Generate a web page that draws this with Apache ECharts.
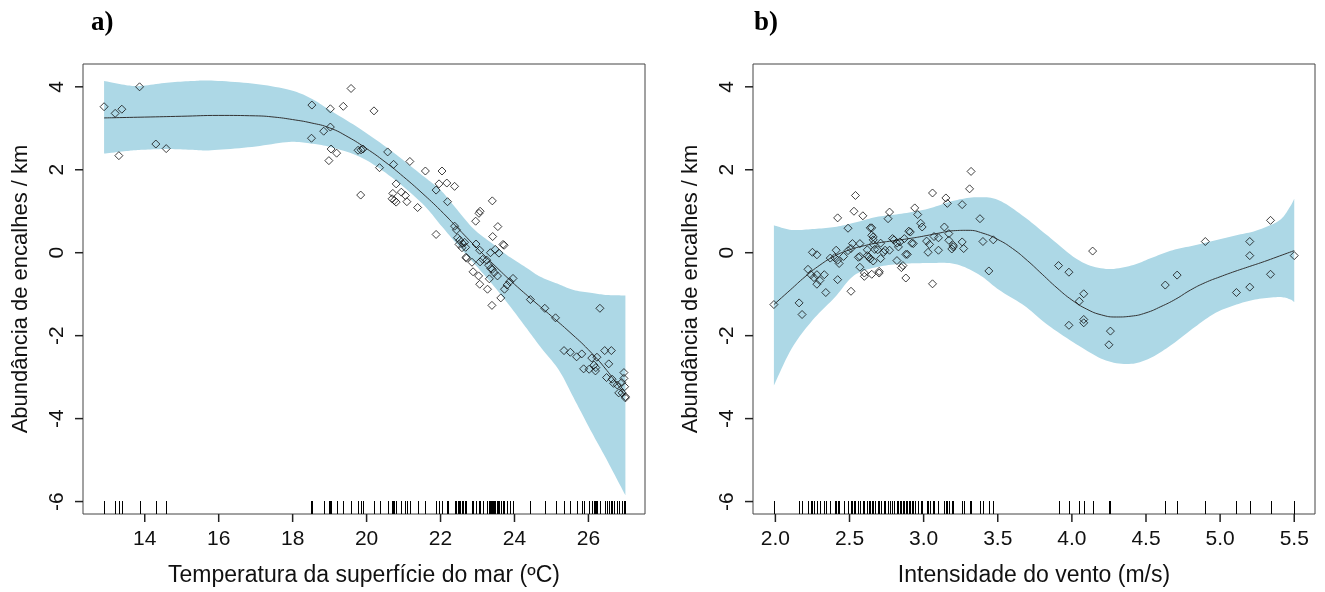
<!DOCTYPE html>
<html>
<head>
<meta charset="utf-8">
<script src="https://cdn.jsdelivr.net/npm/echarts@6/dist/echarts.min.js"></script>
<style>
html,body{margin:0;padding:0;background:#fff;}
#chart{width:1325px;height:592px;}
</style>
</head>
<body>
<div id="chart"></div>
<script>
// ---------- Panel a) : sea surface temperature ----------
const tempPtsX = [12.90,13.20,13.38,13.30,13.86,14.30,14.58,
  18.52,18.51,18.84,19.02,19.02,19.37,19.58,18.98,19.04,19.19,19.84,19.77,19.85,19.90,20.20,20.57,20.35,20.73,20.80,20.71,20.69,20.80,20.75,20.94,21.05,21.09,21.17,21.38,21.59,22.04,21.96,22.17,21.88,22.38,22.19,21.88,22.38,22.43,
  22.46,22.52,22.60,22.50,22.58,22.68,22.65,
  23.40,23.07,23.04,23.55,22.95,23.41,23.72,
  22.96,23.69,23.48,23.35,23.58,23.06,22.69,22.70,22.85,23.07,23.14,
  23.25,23.30,23.40,23.36,23.45,23.54,22.88,23.03,23.32,23.06,23.27,23.63,23.39,23.73,23.80,23.87,23.96,
  24.43,24.82,25.11,26.31,25.34,25.51,25.68,25.82,25.87,26.02,26.19,26.09,26.23,26.15,26.20,26.44,26.62,26.55,
  26.49,26.64,26.68,26.78,26.82,26.91,26.98,26.96,26.96,26.90,27.00,27.00];
const tempPtsY = [3.52,3.36,3.46,2.34,4.00,2.62,2.51,
  3.56,2.76,2.93,3.03,3.47,3.53,3.96,2.22,2.50,2.40,1.39,2.47,2.48,2.50,3.42,2.43,2.05,2.13,1.66,1.43,1.30,1.22,1.26,1.46,1.38,1.23,2.20,1.09,1.97,1.97,1.66,1.68,1.51,1.60,1.23,0.44,0.64,0.55,
  0.36,0.30,0.22,0.20,0.12,0.13,0.25,
  1.25,1.00,0.95,0.63,0.76,0.39,0.18,
  0.21,0.20,0.08,0.00,-0.01,0.06,-0.11,-0.13,-0.23,-0.22,-0.16,
  -0.18,-0.30,-0.40,-0.38,-0.48,-0.56,-0.46,-0.56,-0.63,-0.76,-0.88,-1.09,-1.27,-0.88,-0.78,-0.70,-0.62,
  -1.13,-1.34,-1.57,-1.34,-2.36,-2.40,-2.51,-2.44,-2.80,-2.81,-2.85,-2.54,-2.52,-2.71,-2.77,-2.36,-2.36,-2.68,
  -3.01,-3.05,-3.15,-3.19,-3.38,-3.38,-3.23,-2.89,-3.03,-3.13,-3.47,-3.50];
const tempFitX = [12.9,14,15,16,17,17.5,18,18.5,19,19.5,20,20.5,21,21.5,22,22.5,23,23.5,24,24.5,25,25.5,26,26.5,27];
const tempFitY = [3.25,3.27,3.29,3.31,3.30,3.27,3.21,3.13,3.01,2.79,2.51,2.19,1.83,1.44,1.02,0.56,0.10,-0.34,-0.76,-1.15,-1.53,-1.92,-2.34,-2.84,-3.45];
const tempBandX  = [12.9,13.5,13.9,14.6,15.3,15.8,16.9,17.9,18.5,19.0,19.8,20.6,21.5,22.0,22.4,22.9,23.4,23.8,24.3,24.7,25.2,25.6,26.1,26.5,27.0];
const tempBandHi = [4.14,4.04,4.02,4.10,4.14,4.15,4.08,3.93,3.72,3.44,3.00,2.50,1.87,1.51,1.09,0.57,0.22,-0.06,-0.35,-0.58,-0.76,-0.90,-0.97,-1.02,-1.03];
const tempBandLo = [2.39,2.45,2.48,2.50,2.48,2.47,2.55,2.67,2.63,2.55,2.32,1.87,1.19,0.67,0.25,-0.25,-0.76,-1.20,-1.79,-2.27,-2.83,-3.50,-4.35,-5.00,-5.85];
const tempTicks = [14,16,18,20,22,24,26];

// ---------- Panel b) : wind speed ----------
const windPtsX = [1.99,2.16,2.18,2.22,2.25,2.28,2.24,2.26,2.28,2.30,2.33,2.28,2.34,2.37,2.40,2.41,2.42,2.43,2.42,2.42,2.46,2.49,2.52,2.51,2.49,2.53,2.54,2.51,2.57,2.56,2.57,2.59,2.57,2.60,2.60,2.62,2.62,2.64,2.65,2.65,2.66,2.66,2.63,2.64,2.66,2.65,2.66,2.67,2.70,2.70,2.69,2.71,2.73,2.74,2.71,2.76,2.77,2.77,2.79,2.80,2.82,2.83,2.82,2.84,2.85,2.86,2.88,2.88,2.89,2.87,2.90,2.91,2.92,2.93,2.94,2.96,2.98,2.99,3.02,3.03,3.04,3.06,3.06,3.07,3.10,3.10,3.14,3.15,3.16,3.17,3.17,3.20,3.20,3.19,3.26,3.26,3.27,3.31,3.32,3.38,3.40,3.44,3.47,
  3.91,3.98,4.14,4.08,4.05,3.98,4.08,4.08,4.26,4.25,4.63,4.71,4.90,5.11,5.20,5.20,5.20,5.34,5.34,5.50];
const windPtsY = [-1.25,-1.21,-1.49,-0.40,0.01,-0.05,-0.53,-0.60,-0.53,-0.67,-0.53,-0.76,-0.96,-0.13,-0.12,0.06,-0.18,-0.26,-0.65,0.84,-0.09,0.05,0.22,0.10,0.59,1.00,1.38,-0.93,0.22,-0.11,-0.09,0.89,-0.35,-0.49,-0.57,0.07,-0.07,0.60,0.60,0.42,0.38,0.31,-0.10,-0.15,-0.20,-0.52,0.20,0.08,-0.45,-0.49,0.07,0.23,0.01,0.06,-0.14,0.82,0.98,0.06,0.34,0.31,0.23,0.14,-0.19,0.26,-0.36,-0.31,-0.61,-0.04,-0.04,0.34,0.52,0.50,0.23,0.22,1.08,0.92,0.71,0.62,0.28,0.01,0.20,1.44,-0.75,0.39,0.06,0.36,0.62,1.32,1.19,0.30,0.46,0.18,0.14,0.09,1.16,0.26,0.10,1.54,1.96,0.82,0.27,-0.44,0.31,
  -0.31,-0.47,0.04,-0.99,-1.17,-1.75,-1.61,-1.69,-1.89,-2.22,-0.78,-0.54,0.27,-0.96,0.27,-0.07,-0.83,0.78,-0.52,-0.07];
const windFitX = [1.99,2.1,2.2,2.3,2.4,2.5,2.6,2.7,2.8,2.9,3.0,3.1,3.2,3.3,3.4,3.5,3.6,3.7,3.8,3.9,4.0,4.1,4.2,4.3,4.4,4.5,4.6,4.7,4.8,4.9,5.0,5.1,5.2,5.3,5.4,5.5];
const windFitY = [-1.25,-0.90,-0.58,-0.30,-0.08,0.07,0.17,0.24,0.29,0.34,0.40,0.47,0.53,0.54,0.47,0.32,0.10,-0.19,-0.52,-0.85,-1.14,-1.36,-1.50,-1.55,-1.53,-1.45,-1.30,-1.12,-0.90,-0.72,-0.58,-0.45,-0.33,-0.21,-0.08,0.05];
const windBandX  = [1.99,2.11,2.25,2.40,2.53,2.68,2.85,3.03,3.21,3.37,3.51,3.68,3.84,4.05,4.23,4.40,4.54,4.68,4.83,4.97,5.11,5.25,5.40,5.47,5.5];
const windBandHi = [0.66,0.55,0.57,0.62,0.72,0.86,0.94,1.06,1.26,1.34,1.26,0.86,0.40,-0.19,-0.39,-0.31,-0.12,0.06,0.18,0.30,0.42,0.54,0.78,1.10,1.30];
const windBandLo = [-3.20,-2.31,-1.63,-1.08,-0.55,-0.35,-0.27,-0.25,-0.27,-0.52,-0.90,-1.28,-1.75,-2.25,-2.60,-2.68,-2.52,-2.20,-1.79,-1.45,-1.25,-1.12,-1.07,-1.12,-1.19];
const windTicks = [2.0,2.5,3.0,3.5,4.0,4.5,5.0,5.5];

const yTicks = [-6,-4,-2,0,2,4];
const panelTitles = ['a)', 'b)'];
const xNames = ['Temperatura da superfície do mar (ºC)', 'Intensidade do vento (m/s)'];
const yName = 'Abundância de encalhes / km';

// ---------- build ----------
const chart = echarts.init(document.getElementById('chart'), null, {renderer: 'canvas'});
const BAND = '#ADD8E6';
const INK = '#111';
const FONT = 'Liberation Sans, Arial, sans-serif';
const Y_MIN = -6.30, Y_MAX = 4.55;
const X_RANGE = [[12.33, 27.53], [1.849, 5.64]];
const X_TICKS = [tempTicks, windTicks];

function zip(a, b) { return a.map((v, i) => [v, b[i]]); }

// Catmull-Rom smoothing of the band outline in screen space (rendering only)
function smoothPts(p) {
  const out = [];
  const n = p.length;
  for (let i = 0; i < n - 1; i++) {
    const p0 = p[Math.max(i - 1, 0)], p1 = p[i], p2 = p[i + 1], p3 = p[Math.min(i + 2, n - 1)];
    const c1 = [p1[0] + (p2[0] - p0[0]) / 6, p1[1] + (p2[1] - p0[1]) / 6];
    const c2 = [p2[0] - (p3[0] - p1[0]) / 6, p2[1] - (p3[1] - p1[1]) / 6];
    const steps = 10;
    for (let s = 0; s < steps; s++) {
      const t = s / steps, u = 1 - t;
      out.push([
        u*u*u*p1[0] + 3*u*u*t*c1[0] + 3*u*t*t*c2[0] + t*t*t*p2[0],
        u*u*u*p1[1] + 3*u*u*t*c1[1] + 3*u*t*t*c2[1] + t*t*t*p2[1]
      ]);
    }
  }
  out.push(p[n - 1]);
  return out;
}

function bandSeries(idx, bx, lo, hi) {
  return {
    type: 'custom', xAxisIndex: idx, yAxisIndex: idx, z: 1, silent: true,
    data: [[bx[0], lo[0]]],
    renderItem: function (params, api) {
      const up = [], dn = [];
      for (let i = 0; i < bx.length; i++) { up.push(api.coord([bx[i], hi[i]])); dn.push(api.coord([bx[i], lo[i]])); }
      const pts = smoothPts(up).concat(smoothPts(dn).reverse());
      return { type: 'polygon', shape: { points: pts }, style: { fill: BAND, stroke: null } };
    }
  };
}
function rugSeries(idx, xs) {
  return {
    type: 'custom', xAxisIndex: idx, yAxisIndex: idx, z: 5, silent: true,
    data: xs.map(v => [v, Y_MIN]),
    renderItem: function (params, api) {
      const p = api.coord([api.value(0), Y_MIN]);
      const x = Math.round(p[0]) + 0.5;
      return { type: 'line', shape: { x1: x, y1: p[1], x2: x, y2: p[1] - 13 },
               style: { stroke: '#000', lineWidth: 1 } };
    }
  };
}
function xAxisDef(idx, fmt) {
  return {
    type: 'value', gridIndex: idx, min: X_RANGE[idx][0], max: X_RANGE[idx][1],
    name: xNames[idx], nameLocation: 'middle', nameGap: 50,
    nameTextStyle: { fontFamily: FONT, fontSize: 23, color: INK },
    axisLine: { show: false, onZero: false },
    axisTick: { show: false },
    axisLabel: { show: true, customValues: X_TICKS[idx], margin: 15, fontFamily: FONT, fontSize: 21, color: INK, formatter: fmt },
    splitLine: { show: false }
  };
}
function yAxisDef(idx) {
  return {
    type: 'value', gridIndex: idx, min: Y_MIN, max: Y_MAX,
    name: yName, nameLocation: 'middle', nameGap: 51, nameRotate: 90,
    nameTextStyle: { fontFamily: FONT, fontSize: 22, color: INK },
    axisLine: { show: false, onZero: false },
    axisTick: { show: false },
    axisLabel: { show: true, customValues: yTicks, rotate: 90, margin: 15, fontFamily: FONT, fontSize: 21, color: INK },
    splitLine: { show: false }
  };
}

const titleStyle = { fontFamily: 'Liberation Serif, Times New Roman, serif', fontWeight: 'bold', fontSize: 27, color: '#000' };
const option = {
  animation: false,
  backgroundColor: '#fff',
  title: [
    { text: panelTitles[0], left: 86, top: 5, textStyle: titleStyle },
    { text: panelTitles[1], left: 749, top: 5, textStyle: titleStyle }
  ],
  grid: [
    { left: 83, top: 64, width: 562, height: 450, show: true, borderColor: '#444', borderWidth: 1, backgroundColor: 'transparent' },
    { left: 753, top: 64, width: 562, height: 450, show: true, borderColor: '#444', borderWidth: 1, backgroundColor: 'transparent' }
  ],
  xAxis: [ xAxisDef(0, v => String(v)), xAxisDef(1, v => v.toFixed(1)) ],
  yAxis: [ yAxisDef(0), yAxisDef(1) ],
  series: [
    bandSeries(0, tempBandX, tempBandLo, tempBandHi),
    bandSeries(1, windBandX, windBandLo, windBandHi),
    { type: 'line', xAxisIndex: 0, yAxisIndex: 0, z: 3, data: zip(tempFitX, tempFitY), showSymbol: false, smooth: true,
      lineStyle: { color: '#333', width: 1 } },
    { type: 'line', xAxisIndex: 1, yAxisIndex: 1, z: 3, data: zip(windFitX, windFitY), showSymbol: false, smooth: true,
      lineStyle: { color: '#333', width: 1 } },
    { type: 'scatter', xAxisIndex: 0, yAxisIndex: 0, z: 4, data: zip(tempPtsX, tempPtsY), symbol: 'diamond', symbolSize: [8, 8],
      itemStyle: { color: 'rgba(0,0,0,0)', borderColor: '#111', borderWidth: 1 } },
    { type: 'scatter', xAxisIndex: 1, yAxisIndex: 1, z: 4, data: zip(windPtsX, windPtsY), symbol: 'diamond', symbolSize: [8, 8],
      itemStyle: { color: 'rgba(0,0,0,0)', borderColor: '#111', borderWidth: 1 } },
    rugSeries(0, tempPtsX),
    rugSeries(1, windPtsX)
  ]
};
chart.setOption(option);

// outward tick marks on the bottom and left edges, placed through each grid's own scales
const tickEls = [];
const tickStyle = { stroke: '#222', lineWidth: 1.5 };
for (let idx = 0; idx < 2; idx++) {
  const gridFinder = { gridIndex: idx };
  X_TICKS[idx].forEach(v => {
    const p = chart.convertToPixel(gridFinder, [v, Y_MIN]);
    if (!p) return;
    tickEls.push({ type: 'line', silent: true, z: 100, shape: { x1: p[0], y1: p[1], x2: p[0], y2: p[1] + 8 }, style: tickStyle });
  });
  yTicks.forEach(v => {
    const p = chart.convertToPixel(gridFinder, [X_RANGE[idx][0], v]);
    if (!p) return;
    tickEls.push({ type: 'line', silent: true, z: 100, shape: { x1: p[0], y1: p[1], x2: p[0] - 8, y2: p[1] }, style: tickStyle });
  });
}
chart.setOption({ graphic: { elements: tickEls } });
</script>
</body>
</html>
